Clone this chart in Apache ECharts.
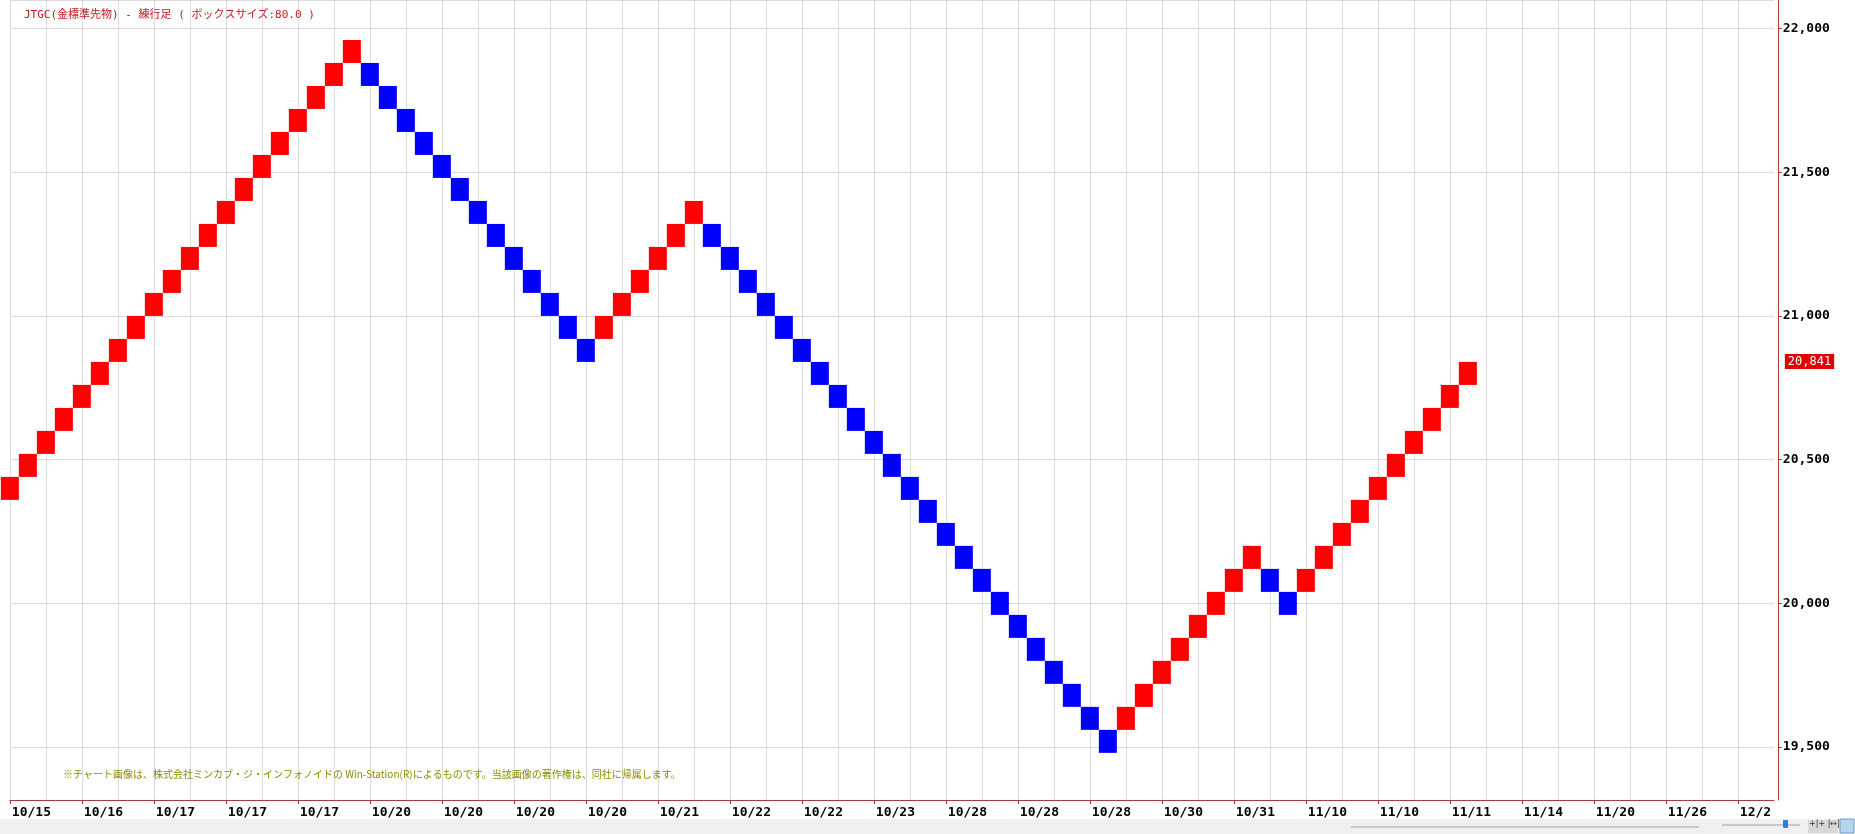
<!DOCTYPE html>
<html><head><meta charset="utf-8">
<script src="https://cdn.jsdelivr.net/npm/echarts@6/dist/echarts.min.js"></script>
<style>html,body{margin:0;padding:0;background:#fff}#c{width:1855px;height:834px}</style>
</head><body><div id="c"></div>
<script>
const titleText = 'JTGC(金標準先物) - 練行足 ( ボックスサイズ:80.0 )';
const noteText = '※チャート画像は、株式会社ミンカブ・ジ・インフォノイドの Win-Station(R)によるものです。当該画像の著作権は、同社に帰属します。';
const tickLabels = ['10/15','10/16','10/17','10/17','10/17','10/20','10/20','10/20','10/20','10/21',
  '10/22','10/22','10/23','10/28','10/28','10/28','10/30','10/31','11/10','11/10',
  '11/11','11/14','11/20','11/26','12/2'];
const boxSize = 80;
const brickLows = [
  20360,20440,20520,20600,20680,20760,20840,20920,21000,21080,21160,21240,21320,21400,21480,21560,21640,21720,21800,21880,
  21800,21720,21640,21560,21480,21400,21320,21240,21160,21080,21000,20920,20840,
  20920,21000,21080,21160,21240,21320,
  21240,21160,21080,21000,20920,20840,20760,20680,20600,20520,20440,20360,20280,20200,20120,20040,19960,19880,19800,19720,19640,19560,19480,
  19560,19640,19720,19800,19880,19960,20040,20120,
  20040,19960,
  20040,20120,20200,20280,20360,20440,20520,20600,20680,20760
];
const brickDirs = [
  1,1,1,1,1,1,1,1,1,1,1,1,1,1,1,1,1,1,1,1,
  -1,-1,-1,-1,-1,-1,-1,-1,-1,-1,-1,-1,-1,
  1,1,1,1,1,1,
  -1,-1,-1,-1,-1,-1,-1,-1,-1,-1,-1,-1,-1,-1,-1,-1,-1,-1,-1,-1,-1,-1,-1,
  1,1,1,1,1,1,1,1,
  -1,-1,
  1,1,1,1,1,1,1,1,1,1
];
const lastPrice = 20841;
const slotCount = 99;
const labelStep = 4;

const slots = [];
for (let i = 0; i < slotCount; i++) slots.push('s' + i);
const brickData = brickLows.map((lo, i) => [i, lo, lo + boxSize, brickDirs[i]]);

const AXIS = '#a83a3a';
const GRID = '#dcdcdc';

const chart = echarts.init(document.getElementById('c'), null, {renderer: 'canvas'});
chart.setOption({
  animation: false,
  backgroundColor: '#ffffff',
  title: {
    text: titleText, left: 19, top: 5,
    textStyle: {fontSize: 11, fontWeight: 'normal', color: '#c4161c', fontFamily: '"DejaVu Sans Mono", "Noto Sans CJK JP"'}
  },
  grid: {left: 9.85, right: 81.15, top: 0, bottom: 34, containLabel: false},
  xAxis: {
    type: 'category', data: slots, boundaryGap: false,
    axisLine: {show: true, lineStyle: {color: AXIS, width: 1}},
    axisTick: {show: true, interval: labelStep - 1, length: 4, lineStyle: {color: AXIS}},
    axisLabel: {
      interval: labelStep - 1, align: 'left', margin: 6, padding: [0, 0, 0, 2],
      fontFamily: '"DejaVu Sans Mono"', fontWeight: 'bold', fontSize: 13, color: '#000',
      formatter: (v, i) => (i % labelStep === 0 ? tickLabels[i / labelStep] : '')
    },
    splitLine: {show: true, interval: (i) => i % 2 === 0 && i < slotCount - 1, lineStyle: {color: GRID, width: 1}}
  },
  yAxis: {
    type: 'value', position: 'right', offset: 4,
    min: 19316, max: 22099, splitNumber: 5, scale: true,
    axisLine: {show: true, lineStyle: {color: AXIS, width: 1}},
    axisTick: {show: true, length: 4, lineStyle: {color: AXIS}},
    axisLabel: {
      margin: 5, showMinLabel: false, showMaxLabel: false,
      fontFamily: '"DejaVu Sans Mono"', fontWeight: 'bold', fontSize: 13, color: '#000',
      formatter: (v) => (v % 500 === 0 ? v.toLocaleString('en-US') : '')
    },
    splitLine: {show: true, lineStyle: {color: GRID, width: 1}}
  },
  series: [{
    type: 'custom',
    clip: false,
    encode: {x: 0, y: [1, 2]},
    data: brickData,
    renderItem: (params, api) => {
      const idx = api.value(0);
      const top = api.coord([idx, api.value(2)]);
      const bot = api.coord([idx, api.value(1)]);
      const w = api.size([1, 0])[0];
      return {
        type: 'rect',
        shape: {x: top[0] - w / 2, y: top[1], width: w, height: bot[1] - top[1]},
        style: {fill: api.value(3) > 0 ? '#ff0000' : '#0000ff'}
      };
    }
  }, {
    type: 'line',
    data: [],
    markLine: {
      silent: true, symbol: 'none', animation: false,
      lineStyle: {color: 'rgba(0,0,0,0)', width: 0},
      label: {
        show: true, position: 'end', distance: 11,
        formatter: () => lastPrice.toLocaleString('en-US'),
        backgroundColor: '#e00000', color: '#ffffff', padding: [2, 3, 1, 3],
        fontFamily: '"DejaVu Sans Mono"', fontSize: 12
      },
      data: [{yAxis: lastPrice}]
    }
  }],
  graphic: [
    {type: 'text', left: 63, top: 769, z: 10,
     style: {text: noteText, fill: '#8c8c00', font: '10px "Noto Sans CJK JP"'}},
    {type: 'rect', left: 0, top: 819, z: -10, shape: {width: 1855, height: 15}, style: {fill: '#f0f0f0'}},
    {type: 'line', z: 5, shape: {x1: 1351, y1: 827, x2: 1699, y2: 827}, style: {stroke: '#a0a0a0', lineWidth: 1}},
    {type: 'line', z: 5, shape: {x1: 1722, y1: 825, x2: 1800, y2: 825}, style: {stroke: '#c8c8c8', lineWidth: 2}},
    {type: 'rect', z: 6, shape: {x: 1783, y: 820, width: 5, height: 8, r: 1}, style: {fill: '#2f7fd0'}},
    {type: 'rect', z: 5, shape: {x: 1808, y: 820, width: 30, height: 13}, style: {fill: '#d8d8d8'}},
    {type: 'text', z: 6, left: 1809, top: 820, style: {text: '+|+ |↔|', fill: '#333', font: '8px "DejaVu Sans"'}},
    {type: 'rect', z: 5, shape: {x: 1840, y: 819, width: 14, height: 14}, style: {fill: '#b8d4ec', stroke: '#6a9cc8'}}
  ]
});
</script>
</body></html>
